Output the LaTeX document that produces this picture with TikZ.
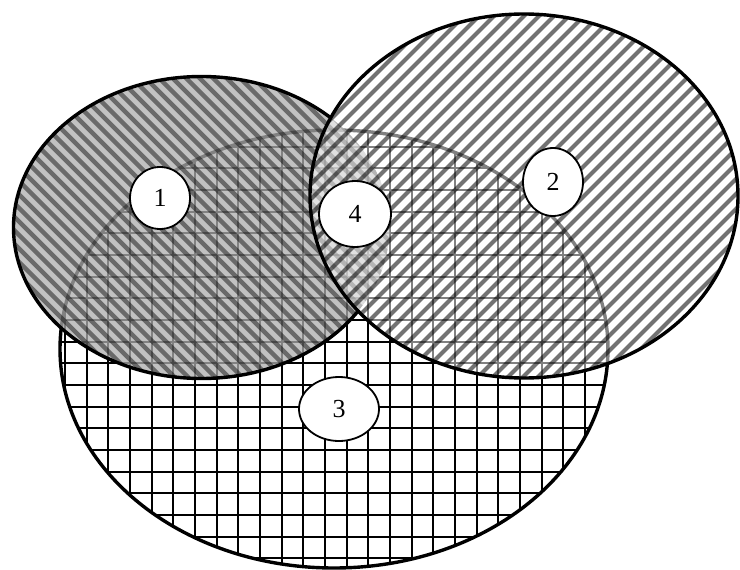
\documentclass[tikz,border=0pt]{standalone}
\usepackage{fontspec}
\setmainfont{Liberation Serif}
\usetikzlibrary{shapes.geometric}
\begin{document}
\begin{tikzpicture}[x=1pt,y=-1pt,
  outline/.style={draw=black,line width=3.4pt},
  gridline/.style={black,line width=2.1pt},
  stripeA/.style={black,opacity=0.45,line width=4.5pt},
  stripeB/.style={black,opacity=0.55,line width=4pt},
  tagbox/.style={ellipse,draw=black,line width=1.8pt,fill=white,inner sep=0pt,font=\fontsize{26}{30}\selectfont}]
\useasboundingbox (0,0) rectangle (740,570);
\coordinate (c1) at (201.5,227.5);
\coordinate (c2) at (524,196);
\coordinate (c3) at (334,349);
% ellipse 3 (grid)
\fill[white] (c3) ellipse [x radius=274, y radius=219];
\begin{scope}
  \clip (c3) ellipse [x radius=274, y radius=219];
  \foreach \k in {-10,...,16} \draw[gridline] (260+21.67*\k,100) -- (260+21.67*\k,600);
  \foreach \k in {-18,...,3} \draw[gridline] (0,515+21.67*\k) -- (740,515+21.67*\k);
\end{scope}
\draw[outline] (c3) ellipse [x radius=274, y radius=219];
% ellipse 1 (gray, stripes \)
\fill[black!32,opacity=0.75] (c1) ellipse [x radius=188, y radius=151];
\begin{scope}
  \clip (c1) ellipse [x radius=188, y radius=151];
  \foreach \k in {-26,...,29} \draw[stripeA] (-50,13.5*\k-50) -- (450,13.5*\k+450);
\end{scope}
\begin{scope}[even odd rule]
  \clip (-20,-20) rectangle (760,590) (c2) ellipse [x radius=214, y radius=182];
  \draw[outline] (c1) ellipse [x radius=188, y radius=151];
\end{scope}
% ellipse 2 (stripes /)
\fill[white,opacity=0.5] (c2) ellipse [x radius=214, y radius=182];
\begin{scope}
  \clip (c2) ellipse [x radius=214, y radius=182];
  \foreach \k in {20,...,76} \draw[stripeB] (15*\k-500,500) -- (15*\k+100,-100);
\end{scope}
\draw[outline] (c2) ellipse [x radius=214, y radius=182];
% labels
\node[tagbox,minimum width=60pt,minimum height=62pt] (l1) at (160,198) {1};
\node[tagbox,minimum width=60pt,minimum height=68pt] (l2) at (553,182) {2};
\node[tagbox,minimum width=80pt,minimum height=64pt] (l3) at (339,409) {3};
\node[tagbox,minimum width=72pt,minimum height=66pt] (l4) at (355,214) {4};
\end{tikzpicture}
\end{document}
